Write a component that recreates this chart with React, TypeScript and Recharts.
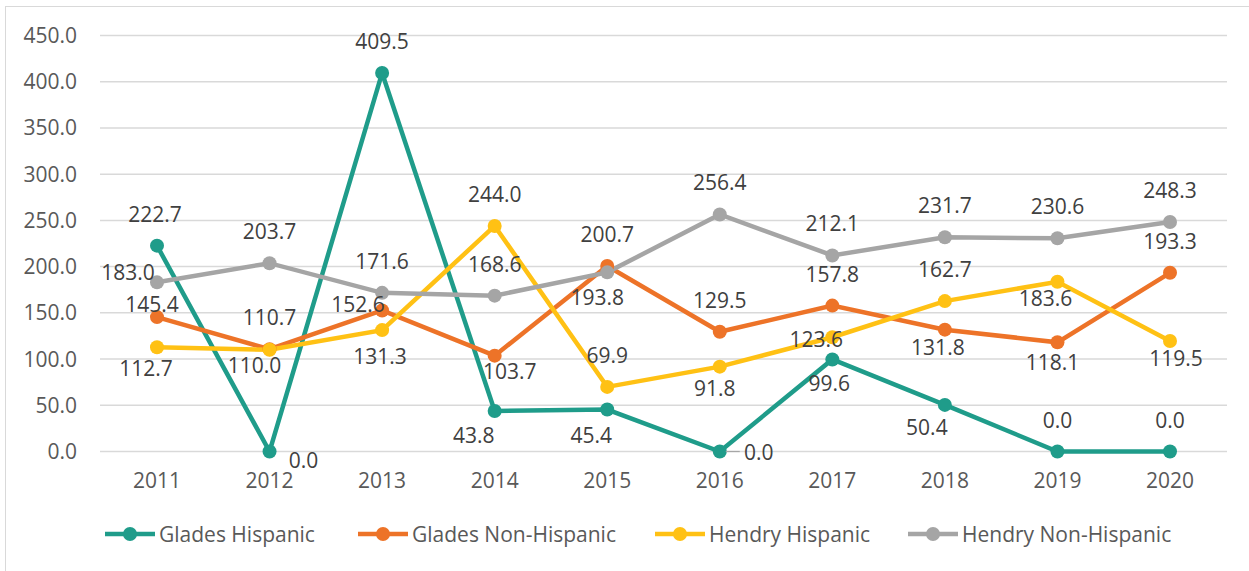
import React from 'react';
import { LineChart, Line, XAxis, YAxis, CartesianGrid, LabelList, Legend } from 'recharts';

const years = ['2011', '2012', '2013', '2014', '2015', '2016', '2017', '2018', '2019', '2020'];
const gladesHispanic = [222.7, 0.0, 409.5, 43.8, 45.4, 0.0, 99.6, 50.4, 0.0, 0.0];
const gladesNonHispanic = [145.4, 110.7, 152.6, 103.7, 200.7, 129.5, 157.8, 131.8, 118.1, 193.3];
const hendryHispanic = [112.7, 110.0, 131.3, 244.0, 69.9, 91.8, 123.6, 162.7, 183.6, 119.5];
const hendryNonHispanic = [183.0, 203.7, 171.6, 168.6, 193.8, 256.4, 212.1, 231.7, 230.6, 248.3];
const yTicks = [0, 50, 100, 150, 200, 250, 300, 350, 400, 450];

// where each data label sits relative to its point: [dx, dy, leader line]
type Offset = [number, number, boolean?];
const T: Offset = [0, -32];
const gladesHispanicLabels: Offset[] = [[-2, -32], [34, 8], T, [-21, 24], [-16, 25], [39, 0, true], [-3, 24], [-18, 22], T, T];
const gladesNonHispanicLabels: Offset[] = [[-5, -13], T, [-24, -6], [15, 15], T, T, T, [-7, 17], [-5, 20], T];
const hendryHispanicLabels: Offset[] = [[-11, 21], [-15, 15], [-2, 26], T, T, [-5, 21], [-16, 2], T, [-12, 16], [6, 17]];
const hendryNonHispanicLabels: Offset[] = [[-29, -10], T, T, T, [-10, 25], T, T, T, T, T];

const FONT = '"Open Sans", sans-serif';
const FS = 21;

const series = [
  { key: 'gladesHispanic', name: 'Glades Hispanic', color: '#1F9C8A', offsets: gladesHispanicLabels },
  { key: 'gladesNonHispanic', name: 'Glades Non-Hispanic', color: '#ED7328', offsets: gladesNonHispanicLabels },
  { key: 'hendryHispanic', name: 'Hendry Hispanic', color: '#FFC114', offsets: hendryHispanicLabels },
  { key: 'hendryNonHispanic', name: 'Hendry Non-Hispanic', color: '#A5A5A5', offsets: hendryNonHispanicLabels },
];
const legendLefts = [105, 358, 655, 908];

const data = years.map((year, i) => ({
  year,
  gladesHispanic: gladesHispanic[i],
  gladesNonHispanic: gladesNonHispanic[i],
  hendryHispanic: hendryHispanic[i],
  hendryNonHispanic: hendryNonHispanic[i],
}));

const makeLabel = (offsets: Offset[]) => (props: any) => {
  const { x, y, value, index } = props;
  const [dx, dy, leader] = offsets[index] ?? T;
  return (
    <g>
      {leader && <line x1={x + 6} x2={x + dx - 19} y1={y} y2={y} stroke="#A6A6A6" strokeWidth={1.2} />}
      <text
        x={x + dx}
        y={y + dy}
        textAnchor="middle"
        dominantBaseline="central"
        fill="#404040"
        fontSize={FS}
        fontFamily={FONT}
      >
        {Number(value).toFixed(1)}
      </text>
    </g>
  );
};

const renderLegend = () => (
  <div style={{ position: 'relative', height: 28 }}>
    {series.map((s, i) => (
      <div
        key={s.key}
        style={{ position: 'absolute', left: legendLefts[i], top: 0, display: 'flex', alignItems: 'center', whiteSpace: 'nowrap' }}
      >
        <svg width={50} height={16}>
          <line x1={0} x2={50} y1={8} y2={8} stroke={s.color} strokeWidth={4.5} strokeLinecap="round" />
          <circle cx={25} cy={8} r={7} fill={s.color} />
        </svg>
        <span style={{ marginLeft: 4, fontFamily: FONT, fontSize: FS, color: '#595959' }}>{s.name}</span>
      </div>
    ))}
  </div>
);

const App: React.FC = () => {
  return (
    <div style={{ position: 'absolute', left: 0, top: 0, width: 1249, height: 571, overflow: 'hidden', background: '#fff' }}>
      <div
        style={{
          position: 'absolute',
          left: 5,
          top: 6,
          width: 1300,
          height: 620,
          border: '1.5px solid #D9D9D9',
        }}
      />
      <LineChart width={1249} height={571} data={data} margin={{ top: 35.5, right: 22, bottom: 79.5, left: 0 }}>
        <CartesianGrid vertical={false} stroke="#D9D9D9" strokeWidth={1.5} />
        <XAxis
          dataKey="year"
          height={40}
          axisLine={false}
          tickLine={false}
          tickSize={0}
          tickMargin={22}
          padding={{ left: 57, right: 57 }}
          tick={{ fill: '#595959', fontSize: FS, fontFamily: FONT }}
        />
        <YAxis
          width={100}
          domain={[0, 450]}
          ticks={yTicks}
          interval={0}
          axisLine={false}
          tickLine={false}
          tickSize={0}
          tickMargin={23}
          tickFormatter={(v: number) => v.toFixed(1)}
          tick={{ fill: '#595959', fontSize: FS, fontFamily: FONT }}
        />
        <Legend
          verticalAlign="middle"
          align="center"
          content={renderLegend}
          wrapperStyle={{ top: 520, left: 0, width: 1249 }}
        />
        {series.map((s) => (
          <Line
            key={s.key}
            dataKey={s.key}
            name={s.name}
            stroke={s.color}
            strokeWidth={4.5}
            dot={{ r: 7, fill: s.color, stroke: 'none' }}
            activeDot={false}
            isAnimationActive={false}
          />
        ))}
        {series.map((s) => (
          <Line
            key={s.key + '-labels'}
            dataKey={s.key}
            stroke="none"
            dot={false}
            activeDot={false}
            legendType="none"
            isAnimationActive={false}
          >
            <LabelList dataKey={s.key} content={makeLabel(s.offsets)} />
          </Line>
        ))}
      </LineChart>
    </div>
  );
};

export default App;
